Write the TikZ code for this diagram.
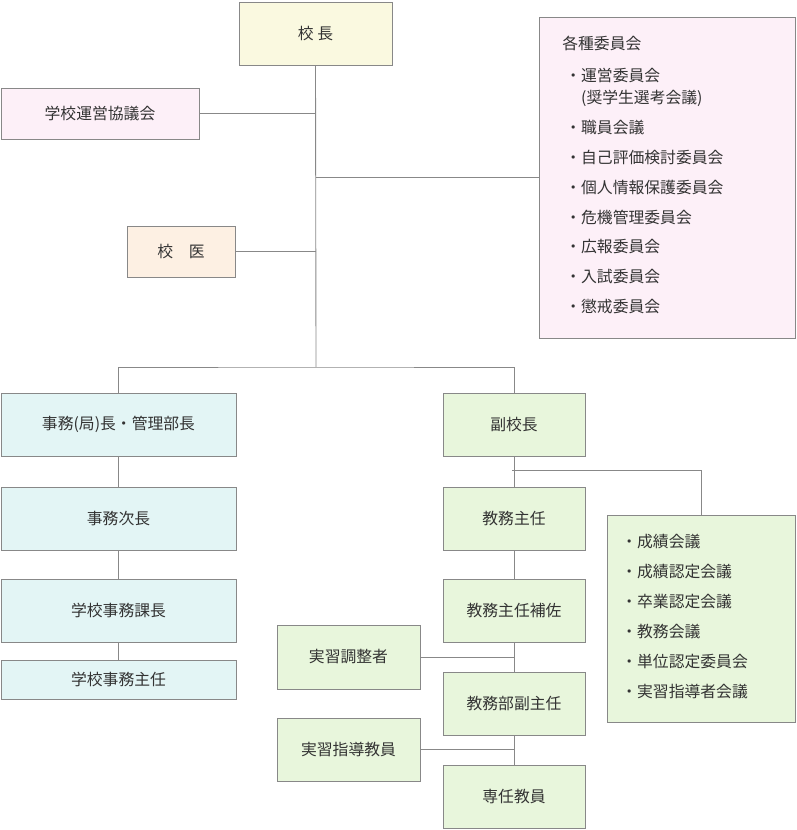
\documentclass[tikz,border=0pt]{standalone}
\usepackage{fontspec}
\setmainfont{Noto Sans CJK JP}
\usetikzlibrary{positioning,calc}
\definecolor{cyel}{HTML}{FAF9E0}
\definecolor{cpink}{HTML}{FDF0F8}
\definecolor{cpeach}{HTML}{FDF0E3}
\definecolor{ccyan}{HTML}{E3F5F5}
\definecolor{cgreen}{HTML}{E8F6DC}
\definecolor{ctext}{HTML}{333333}
\definecolor{cline}{HTML}{888888}
\newcommand{\orgbox}[6]{% name, x1, y1, x2, y2, fill
  \node[box, fill=#6, minimum width={(#4-#2)*0.02cm}, minimum height={(#5-#3)*0.02cm}] (#1) at ({(#2+#4)/2},{(#3+#5)/2})}
\begin{document}
\begin{tikzpicture}[x=0.02cm,y=-0.02cm,
  box/.style={draw=cline, line width=0.5pt, inner sep=0pt, text=ctext, font=\fontsize{9}{10}\selectfont},
  link/.style={draw=cline, line width=0.5pt},
  item/.style={text=ctext, font=\fontsize{9}{17}\selectfont, align=left, anchor=north west, inner sep=0pt}]
	\useasboundingbox (0,0) rectangle (796,830);

	% top
	\orgbox{principal}{239}{2}{392}{65}{cyel} {校 長};
	\orgbox{council}{1}{88}{199}{139}{cpink} {学校運営協議会};
	\orgbox{committees}{539}{17}{795}{338}{cpink} {};
	\orgbox{doctor}{127}{226}{235}{277}{cpeach} {校\hspace{1em}医};
	\node[item] (cmtitle) at (562,36) {各種委員会};
	\node[item] (cmlist) at (565,68) {・運営委員会\\[-4.5pt]\hspace{1em}(奨学生選考会議)\\・職員会議\\・自己評価検討委員会\\・個人情報保護委員会\\・危機管理委員会\\・広報委員会\\・入試委員会\\・懲戒委員会};

	% left column
	\orgbox{office}{1}{393}{236}{456}{ccyan} {事務(局)長・管理部長};
	\orgbox{deputyoff}{1}{487}{236}{550}{ccyan} {事務次長};
	\orgbox{section}{1}{579}{236}{642}{ccyan} {学校事務課長};
	\orgbox{clerk}{1}{660}{236}{699}{ccyan} {学校事務主任};

	% right column
	\orgbox{vice}{443}{393}{585}{456}{cgreen} {副校長};
	\orgbox{academic}{443}{487}{585}{550}{cgreen} {教務主任};
	\orgbox{assist}{443}{579}{585}{642}{cgreen} {教務主任補佐};
	\orgbox{subchief}{443}{672}{585}{735}{cgreen} {教務部副主任};
	\orgbox{faculty}{443}{765}{585}{828}{cgreen} {専任教員};
	\orgbox{coord}{277}{625}{420}{689}{cgreen} {実習調整者};
	\orgbox{trainer}{277}{718}{420}{781}{cgreen} {実習指導教員};
	\orgbox{meetings}{607}{515}{795}{722}{cgreen} {};
	\node[item] (mtlist) at (621,534) {・成績会議\\・成績認定会議\\・卒業認定会議\\・教務会議\\・単位認定委員会\\・実習指導者会議};

	% connectors
	\coordinate (split) at (316,367);
	\draw[link] (principal.south) -- (split);
	\draw[link] (council.east) -- (council.east -| split);
	\draw[link] (doctor.east) -- (doctor.east -| split);
	\draw[link] (committees.west |- 0,177) -- (316,177);
	\draw[link] (office.north) |- (split) -| (vice.north);
	\draw[link] (office) -- (deputyoff) -- (section) -- (clerk);
	\draw[link] (vice) -- (academic) -- (assist) -- (subchief) -- (faculty);
	\coordinate (vbranch) at (512,470);
	\draw[link] (vbranch) -| (meetings.north);
	\draw[link] (coord.east) -- (coord.east -| vice);
	\draw[link] (trainer.east) -- (trainer.east -| vice);
\end{tikzpicture}
\end{document}
